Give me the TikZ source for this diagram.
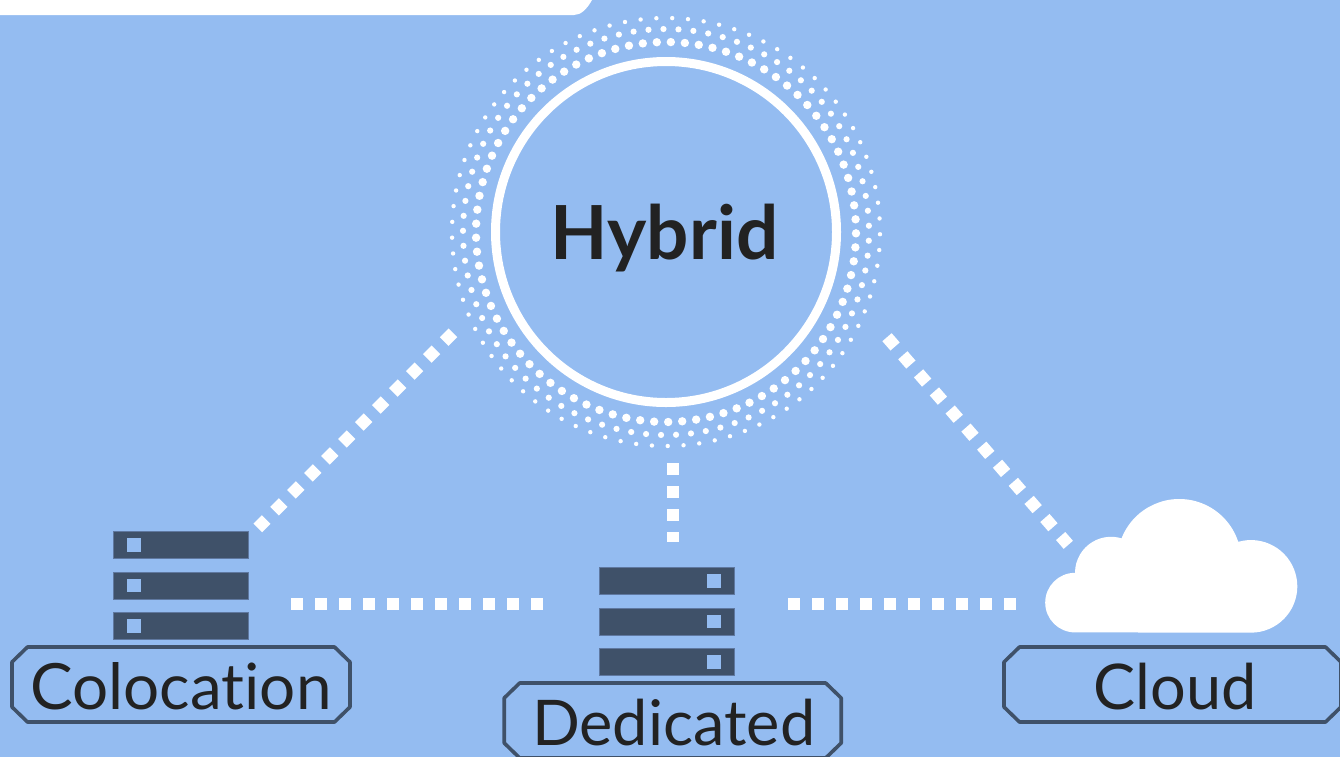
\documentclass[tikz,border=0pt]{standalone}
\usepackage{fontspec}
\setmainfont{Lato}
\definecolor{bgblue}{HTML}{94BCF1}
\definecolor{slate}{HTML}{3F5169}
\definecolor{slateedge}{HTML}{5F78A0}
\definecolor{ink}{HTML}{222222}
\newcommand{\tagoutline}[1]{%
  \draw[tagline] ([xshift=15.5pt]#1.north west) -- ([xshift=-15.5pt]#1.north east)
    -- ([yshift=-15pt]#1.north east) -- ([yshift=15pt]#1.south east)
    -- ([xshift=-15.5pt]#1.south east) -- ([xshift=15.5pt]#1.south west)
    -- ([yshift=15pt]#1.south west) -- ([yshift=-15pt]#1.north west) -- cycle;}
\tikzset{
  link/.style={draw=white,line width=12.3pt,dash pattern=on 12.3pt off 11.7pt},
  rack/.style={fill=slate,draw=slateedge,line width=.5pt,minimum width=135pt,minimum height=27pt,inner sep=0pt,outer sep=0pt},
  led/.style={fill=bgblue,minimum size=13.8pt,inner sep=0pt,outer sep=0pt},
  tag/.style={rectangle,minimum height=75pt,inner sep=0pt,outer sep=0pt,text=ink,font=\fontsize{63}{75}\selectfont,text height=49pt,text depth=0pt},
  tagline/.style={draw=slate,line width=3.6pt,line join=round},
  hub/.style={circle,draw=white,line width=9pt,minimum size=341pt,inner sep=0pt,outer sep=0pt,text=ink,
    font=\bfseries\fontsize{74.6}{90}\selectfont,text height=54pt,text depth=0pt},
}
\begin{document}
\begin{tikzpicture}[x=1pt,y=-1pt]
\useasboundingbox (0,0) rectangle (1340,756);
\clip (-6,-6) rectangle (1346,762);
\fill[bgblue] (-6,-6) rectangle (1346,762);
% top tab
\fill[white] (-6,-6) -- (592,-6) -- (592,0) .. controls (587,9) and (581,15) .. (574,15) -- (-6,15) -- cycle;
% dotted rings
\foreach \i in {0,...,84}{
  \fill[white] ({666+190*cos(0.4+\i*4.23529)},{232+190*sin(0.4+\i*4.23529)}) circle[radius=4.2];
  \fill[white] ({666+203*cos(2.46+\i*4.23529)},{232+203*sin(2.46+\i*4.23529)}) circle[radius=3.1];
  \fill[white] ({666+214*cos(0.6+\i*4.23529)},{232+214*sin(0.6+\i*4.23529)}) circle[radius=2.2];
}
\node[hub] (hybrid) at (666,232) {\hspace*{-3pt}Hybrid};
% free ends of the connectors
\coordinate (la) at (452.9,332.8);
\coordinate (lb) at (257.8,527.9);
\coordinate (ra) at (887,337.2);
\coordinate (rb) at (1068.3,544.8);
\coordinate (va) at (673,463);
\coordinate (vb) at (673,542);
\coordinate (ha) at (291,604.3);
\coordinate (hb) at (545,604.3);
\coordinate (hc) at (788,604.3);
\coordinate (hd) at (1017,604.3);
\draw[link] (la) -- (lb);
\draw[link] (ra) -- (rb);
\draw[link,dash pattern=on 12.3pt off 10.7pt] (va) -- (vb);
\draw[link] (ha) -- (hb);
\draw[link] (hc) -- (hd);
% colocation servers
\foreach \n/\y in {1/545,2/585.5,3/626}{
  \node[rack] (colo\n) at (181,\y) {};
  \node[led] (cololed\n) at (134,\y) {};
}
% dedicated servers
\foreach \n/\y in {1/581,2/621.5,3/662}{
  \node[rack] (ded\n) at (667,\y) {};
  \node[led] (dedled\n) at (714.3,\y) {};
}
% cloud
\fill[white] (1075,632.4) arc[start angle=90,end angle=270,radius=29.8]
  arc[start angle=180,end angle=287,radius=36]
  arc[start angle=201.4,end angle=342,radius=62]
  arc[start angle=254,end angle=450,radius=46.3] -- cycle;
% labels
\node[tag,minimum width=338pt,font=\fontsize{63.8}{75}\selectfont] (colocation) at (181,684.5) {Colocat\kern0pt ion};
\node[tag,minimum width=337pt] (dedicated) at (672.7,720.5) {\hspace*{2pt}Dedicated};
\node[tag,minimum width=337pt] (cloud) at (1172.5,684.5) {\hspace*{5pt}Cloud};
\tagoutline{colocation}
\tagoutline{dedicated}
\tagoutline{cloud}
\end{tikzpicture}
\end{document}
